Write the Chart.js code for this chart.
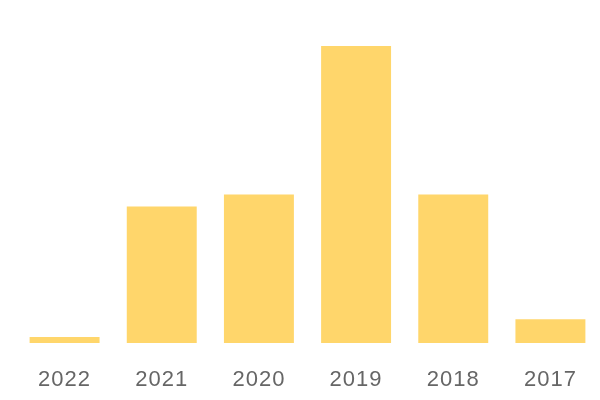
<!DOCTYPE html>
<html>
<head>
<meta charset="utf-8">
<script src="https://cdn.jsdelivr.net/npm/chart.js@4"></script>
<style>
html,body{margin:0;padding:0;background:#fff;}
#wrap{width:600px;height:400px;}
</style>
</head>
<body>
<div id="wrap"><canvas id="c"></canvas></div>
<script>
const categories = ["2022", "2021", "2020", "2019", "2018", "2017"];
const values = [1, 23, 25, 50, 25, 4];

const spacingPlugin = {
  id: 'spacing',
  beforeDraw(chart) { chart.ctx.letterSpacing = '1px'; }
};

new Chart(document.getElementById('c'), {
  type: 'bar',
  data: {
    labels: categories,
    datasets: [{
      data: values,
      backgroundColor: '#FFD66B',
      borderWidth: 0
    }]
  },
  plugins: [spacingPlugin],
  options: {
    responsive: true,
    maintainAspectRatio: false,
    animation: false,
    layout: { padding: { top: 46, left: 16, right: 1, bottom: 0 } },
    plugins: { legend: { display: false }, tooltip: { enabled: false } },
    scales: {
      y: { display: false, min: 0, max: 50 },
      x: {
        grid: { display: false },
        border: { display: false },
        afterFit: function (scale) { scale.height = 57; },
        ticks: {
          color: '#666666',
          padding: 16,
          font: { family: "'Liberation Sans', Arial, sans-serif", size: 22 }
        }
      }
    }
  }
});
</script>
</body>
</html>
